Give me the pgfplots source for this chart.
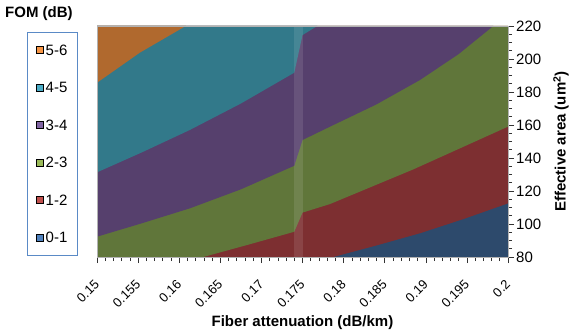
\documentclass[border=0pt]{standalone}
\usepackage{pgfplots}
\pgfplotsset{compat=1.18}
\usepackage{fontspec}
\setmainfont{Liberation Sans}
\definecolor{cOrange}{HTML}{B0692E}
\definecolor{cTeal}{HTML}{32798A}
\definecolor{cPurple}{HTML}{56406D}
\definecolor{cGreen}{HTML}{60763A}
\definecolor{cRed}{HTML}{7D2F31}
\definecolor{cBlue}{HTML}{2D4A6C}
\definecolor{lOrange}{HTML}{F79646}
\definecolor{lTeal}{HTML}{4BACC6}
\definecolor{lPurple}{HTML}{8064A2}
\definecolor{lGreen}{HTML}{9BBB59}
\definecolor{lRed}{HTML}{C0504D}
\definecolor{lBlue}{HTML}{4F81BD}
\definecolor{legBorder}{HTML}{5A8AC6}
\begin{document}
\begin{tikzpicture}
\useasboundingbox (0,0) rectangle (574bp,333bp);
\begin{axis}[
  at={(97bp,76bp)}, anchor=south west,
  scale only axis, width=411bp, height=231bp,
  xmin=0.15, xmax=0.2, ymin=80, ymax=220,
  clip=false,
  font=\fontsize{15bp}{18bp}\selectfont,
  /pgf/number format/assume math mode=true,
  xtick={0.15,0.155,0.16,0.165,0.17,0.175,0.18,0.185,0.19,0.195,0.2},
  xticklabels={0.15,0.155,0.16,0.165,0.17,0.175,0.18,0.185,0.19,0.195,0.2},
  minor x tick num=4,
  ytick={80,100,...,220},
  minor y tick num=3,
  xtick pos=bottom, ytick pos=right, yticklabel pos=right,
  tick align=outside,
  major tick length=6bp, minor tick length=4bp,
  tick style={black!80, line width=0.6pt},
  axis line style={black!30, line width=0.6pt},
  xticklabel style={xshift=0bp, yshift=-19bp, rotate=45, anchor=east, inner sep=0pt, font=\fontsize{13bp}{15bp}\selectfont},
  yticklabel style={anchor=west, inner sep=0pt, xshift=2bp},
  xlabel={\bfseries Fiber attenuation (dB/km)},
  ylabel={\bfseries Effective area (um\textsuperscript{2})},
  xlabel style={at={(axis description cs:0.5,-0.285)}, anchor=center},
  ylabel style={at={(axis description cs:1.129,0.5)}, anchor=center},
  axis on top,
  legend style={at={(axis description cs:-0.1703,0.974)}, anchor=north west,
    draw=legBorder, line width=0.8pt, inner xsep=9bp, inner ysep=11bp,
    row sep=24bp, nodes={inner sep=1.5bp, text height=10.5bp, text depth=0bp},
    cells={anchor=west}, font=\fontsize{15bp}{18bp}\selectfont},
  legend image code/.code={\fill[#1] (0bp,-3.5bp) rectangle (7bp,3.5bp);},
]
% background 0-1
\addplot[fill=cBlue, draw=none, forget plot] coordinates {(0.15,80) (0.2,80) (0.2,220) (0.15,220)} -- cycle;
% 1-2
\addplot[fill=cRed, draw=none, forget plot] coordinates {(0.15,80) (0.17875,80) (0.1840,87.0) (0.1893,94.4) (0.1947,103.2) (0.2,112.5) (0.2,220) (0.15,220)} -- cycle;
% 2-3
\addplot[fill=cGreen, draw=none, forget plot] coordinates {(0.15,80) (0.16293,80) (0.1685,87.6) (0.174,95.3) (0.175,106.9) (0.17835,112.1) (0.18848,133.1) (0.194,145.5) (0.2,159) (0.2,220) (0.15,220)} -- cycle;
% 3-4
\addplot[fill=cPurple, draw=none, forget plot] coordinates {(0.15,92.3) (0.1555,100.5) (0.1613,109.5) (0.1675,121) (0.174,135.3) (0.175,150.9) (0.17835,159) (0.1840,172.5) (0.1893,187.3) (0.1940,203) (0.19821,220) (0.15,220)} -- cycle;
% 4-5
\addplot[fill=cTeal, draw=none, forget plot] coordinates {(0.15,131.3) (0.1555,143.5) (0.1613,157) (0.1675,173) (0.174,191.7) (0.175,214.5) (0.1768,220) (0.15,220)} -- cycle;
% 5-6
\addplot[fill=cOrange, draw=none, forget plot] coordinates {(0.15,185.6) (0.1552,203.8) (0.1608,220) (0.15,220)} -- cycle;
% lighter strip
\addplot[fill=white, fill opacity=0.1, draw=none, forget plot] coordinates {(0.174,80) (0.175,80) (0.175,220) (0.174,220)} -- cycle;
\addlegendimage{fill=lOrange}\addlegendentry{5-6}
\addlegendimage{fill=lTeal}\addlegendentry{4-5}
\addlegendimage{fill=lPurple}\addlegendentry{3-4}
\addlegendimage{fill=lGreen}\addlegendentry{2-3}
\addlegendimage{fill=lRed}\addlegendentry{1-2}
\addlegendimage{fill=lBlue}\addlegendentry{0-1}
\node[anchor=west, inner sep=0pt, font=\fontsize{15bp}{18bp}\selectfont\bfseries] at (axis description cs:-0.2238,1.052) {FOM (dB)};
\end{axis}
\end{tikzpicture}
\end{document}
